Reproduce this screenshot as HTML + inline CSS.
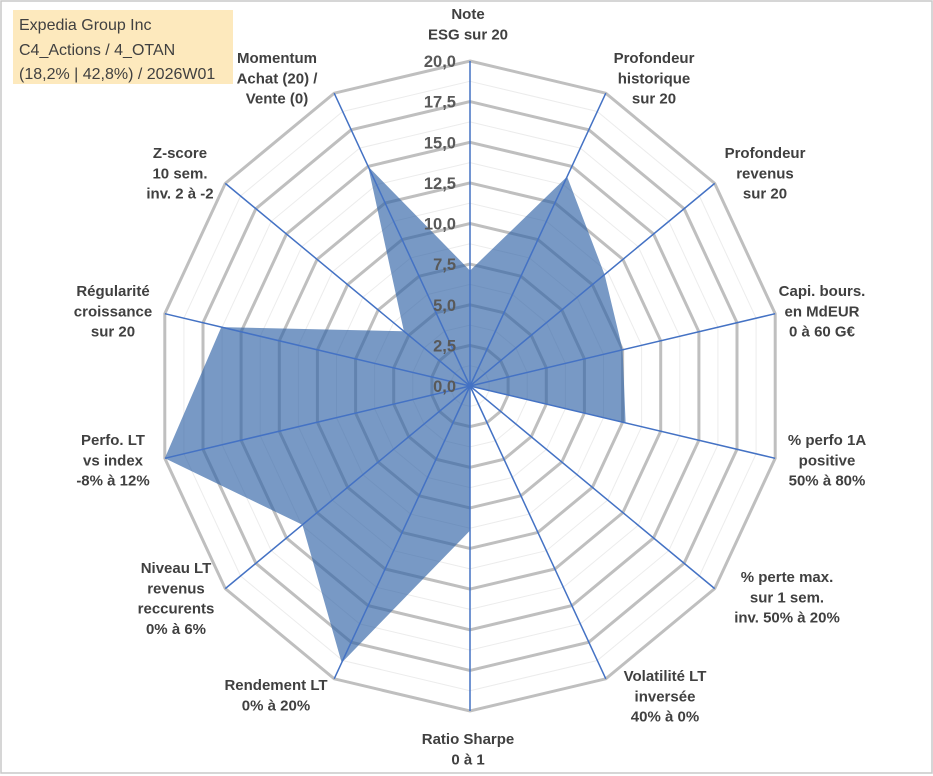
<!DOCTYPE html>
<html><head><meta charset="utf-8"><style>
html,body{margin:0;padding:0;background:#fff;}
#wrap{position:relative;width:933px;height:776px;overflow:hidden;}
svg text{font-family:"Liberation Sans",sans-serif;}
</style></head><body>
<div id="wrap">
<svg id="chart" width="933" height="776" viewBox="0 0 933 776">
<rect x="1" y="1" width="931" height="772" fill="#fff" stroke="#c8c8c8" stroke-width="1.5"/>
<g id="grid"></g>
<g id="series"></g>
<g id="axes"></g>
<g id="ticks"></g>
<g id="labels"></g>
<g>
<rect x="13" y="10" width="220" height="74" fill="#fde9bd"/>
<text x="19" y="30" font-size="16" fill="#404040">Expedia Group Inc</text>
<text x="19" y="55" font-size="16" fill="#404040">C4_Actions / 4_OTAN</text>
<text x="19" y="79" font-size="16" fill="#404040">(18,2% | 42,8%) / 2026W01</text>
</g>
</svg>
</div>
<script>
const categories = [
 ["Note","ESG sur 20"],
 ["Profondeur","historique","sur 20"],
 ["Profondeur","revenus","sur 20"],
 ["Capi. bours.","en MdEUR","0 à 60 G€"],
 ["% perfo 1A","positive","50% à 80%"],
 ["% perte max.","sur 1 sem.","inv. 50% à 20%"],
 ["Volatilité LT","inversée","40% à 0%"],
 ["Ratio Sharpe","0 à 1"],
 ["Rendement LT","0% à 20%"],
 ["Niveau LT","revenus","reccurents","0% à 6%"],
 ["Perfo. LT","vs index","-8% à 12%"],
 ["Régularité","croissance","sur 20"],
 ["Z-score","10 sem.","inv. 2 à -2"],
 ["Momentum","Achat (20) /","Vente (0)"]
];
const values = [7.1, 14.3, 11, 10, 10.2, 0, 0, 8.9, 18.9, 13.7, 20, 16.3, 5.4, 15];
const tickValues = [0, 2.5, 5, 7.5, 10, 12.5, 15, 17.5, 20];
const tickLabels = ["0,0","2,5","5,0","7,5","10,0","12,5","15,0","17,5","20,0"];
const minorTicks = [1.25, 3.75, 6.25, 8.75, 11.25, 13.75, 16.25, 18.75];

// label layout (center x, first-line center y) — layout only
const labelLayout = [[468,14],[654,58],[765,153],[822,291],[827,440],[787,577],[665,676],[468,739],[276,685],[176,568],[113,440],[113,291],[180,153],[277,58]];

const NS="http://www.w3.org/2000/svg";
const cx=470, cy=386, rx=313, ry=325, vmax=20, N=categories.length;
function ang(i){return i*2*Math.PI/N;}
function px(i,v){return cx+rx*(v/vmax)*Math.sin(ang(i));}
function py(i,v){return cy-ry*(v/vmax)*Math.cos(ang(i));}
function mk(tag,parent){const e=document.createElementNS(NS,tag);document.getElementById(parent).appendChild(e);return e;}
function ring(v){let s=[];for(let i=0;i<N;i++)s.push(px(i,v).toFixed(1)+","+py(i,v).toFixed(1));return s.join(" ");}

minorTicks.forEach(v=>{
 const p=mk("polygon","grid");
 
 
 p.setAttribute("points",ring(v));p.setAttribute("fill","none");p.setAttribute("stroke","#ececec");p.setAttribute("stroke-width","1");
});
tickValues.forEach(v=>{
 if(v===0)return;
 const p=mk("polygon","grid");
 
 
 p.setAttribute("points",ring(v));p.setAttribute("fill","none");p.setAttribute("stroke","#bfbfbf");p.setAttribute("stroke-width","3");
});

let pts=[];
values.forEach((v,i)=>pts.push(px(i,v).toFixed(1)+","+py(i,v).toFixed(1)));
const area=mk("polygon","series");


area.setAttribute("points",pts.join(" "));area.setAttribute("fill","#2f62a6");area.setAttribute("fill-opacity","0.65");

for(let i=0;i<N;i++){
 const l=mk("line","axes");
 
 
 l.setAttribute("x1",cx);l.setAttribute("y1",cy);l.setAttribute("x2",px(i,vmax));l.setAttribute("y2",py(i,vmax));
 l.setAttribute("stroke","#4472c4");l.setAttribute("stroke-width","1.5");
}

tickValues.forEach((v,k)=>{
 const t=mk("text","ticks");
 
 
 t.setAttribute("x",cx-14);t.setAttribute("y",cy-ry*v/vmax+6);
 t.setAttribute("text-anchor","end");t.setAttribute("font-size","16.5");t.setAttribute("font-weight","bold");t.setAttribute("fill","#595959");
 t.textContent=tickLabels[k];
});

categories.forEach((lines,i)=>{
 const x=labelLayout[i][0], y0=labelLayout[i][1]+5, lh=20.3;
 const t=mk("text","labels");
 
 
 t.setAttribute("text-anchor","middle");t.setAttribute("font-size","15");t.setAttribute("font-weight","bold");t.setAttribute("fill","#404040");
 lines.forEach((ln,k)=>{
  const sp=document.createElementNS(NS,"tspan");
  sp.setAttribute("x",x);sp.setAttribute("y",y0+k*lh);sp.textContent=ln;t.appendChild(sp);
 });
});
</script>
</body></html>
